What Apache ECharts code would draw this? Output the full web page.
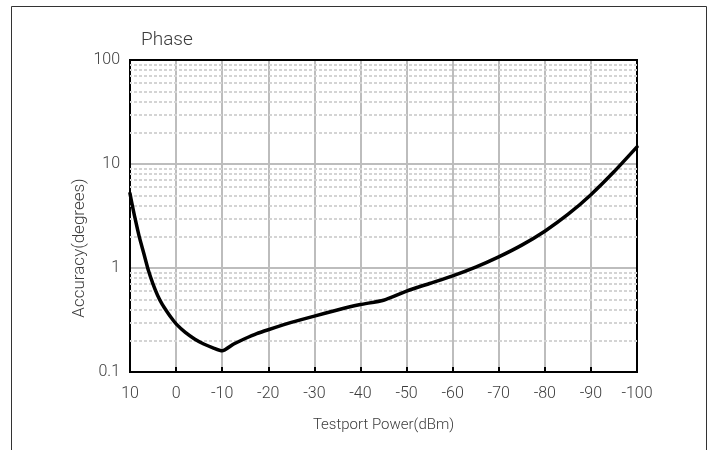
<!DOCTYPE html>
<html><head><meta charset="utf-8">
<script src="https://cdn.jsdelivr.net/npm/echarts@6/dist/echarts.min.js"></script>
<style>html,body{margin:0;padding:0;background:#fff}#c{width:713px;height:450px}</style>
</head><body><div id="c"></div>
<script>
const chartTitle = 'Phase';
const xAxisName = 'Testport Power(dBm)';
const yAxisName = 'Accuracy(degrees)';
const powerDbm = [10, 9.5, 9, 8, 7, 6, 5, 4, 3, 2, 1, 0, -2, -4, -6, -8, -10, -12.5, -15, -17.5, -20, -25, -30, -35, -40, -45, -50, -55, -60, -65, -70, -75, -80, -85, -90, -95, -100];
const accuracyDeg = [5.2, 4.0, 3.14, 2.0, 1.38, 0.945, 0.7, 0.545, 0.447, 0.382, 0.33, 0.29, 0.24, 0.208, 0.186, 0.171, 0.16, 0.186, 0.21, 0.234, 0.255, 0.3, 0.345, 0.395, 0.445, 0.49, 0.6, 0.71, 0.84, 1.02, 1.28, 1.66, 2.26, 3.27, 5.07, 8.41, 14.6];
const minorGridValues = [0.2,0.3,0.4,0.5,0.6,0.7,0.8,0.9,2,3,4,5,6,7,8,9,20,30,40,50,60,70,80,90];

const FONT = "Roboto, 'Liberation Sans', sans-serif";
const TXT = '#3c3c3c';
const chart = echarts.init(document.getElementById('c'), null, {renderer: 'canvas'});
chart.setOption({
  animation: false,
  backgroundColor: '#fff',
  title: {
    text: chartTitle, left: 136, top: 26,
    textStyle: {fontFamily: FONT, fontSize: 19, fontWeight: 300, color: TXT}
  },
  graphic: [{
    type: 'rect', silent: true,
    shape: {x: 11.5, y: 6.5, width: 695, height: 500},
    style: {fill: 'none', stroke: '#333', lineWidth: 1}
  }, {
    type: 'text', silent: true, x: 80, y: 248, rotation: Math.PI / 2,
    style: {text: yAxisName, fontFamily: FONT, fontSize: 17, fontWeight: 300, fill: TXT,
      align: 'center', verticalAlign: 'middle'}
  }],
  grid: {left: 130, top: 60, right: 76, bottom: 78, show: true, borderColor: '#000', borderWidth: 2, backgroundColor: 'transparent', z: 5},
  xAxis: {
    type: 'value', min: -100, max: 10, interval: 10, inverse: true,
    name: xAxisName, nameLocation: 'middle', nameGap: 46,
    nameTextStyle: {fontFamily: FONT, fontSize: 15, fontWeight: 300, color: TXT},
    axisLine: {show: true, onZero: false, lineStyle: {color: '#000', width: 2}},
    axisTick: {show: true, inside: true, length: 5, lineStyle: {color: '#000', width: 2}},
    axisLabel: {margin: 14, fontFamily: FONT, fontSize: 16, fontWeight: 300, color: TXT, showMinLabel: true, showMaxLabel: true},
    splitLine: {show: true, lineStyle: {color: '#bdbdbd', width: 2}}
  },
  yAxis: {
    type: 'log', logBase: 10, min: 0.1, max: 100,
    axisLine: {show: true, onZero: false, lineStyle: {color: '#000', width: 2}},
    axisTick: {show: false},
    axisLabel: {margin: 10, fontFamily: FONT, fontSize: 16, fontWeight: 300, color: TXT,
      formatter: v => String(+v.toPrecision(3))},
    splitLine: {show: true, lineStyle: {color: '#bdbdbd', width: 2}}
  },
  series: [
    {
      type: 'line', data: [], z: 1, silent: true,
      markLine: {
        silent: true, symbol: 'none', animation: false,
        label: {show: false},
        lineStyle: {color: '#d4d4d4', width: 2, type: [3, 2]},
        data: minorGridValues.map(v => ({yAxis: v}))
      }
    },
    {
      type: 'line', z: 10,
      data: powerDbm.map((x, i) => [x, accuracyDeg[i]]),
      smooth: 0.2, symbol: 'none',
      lineStyle: {color: '#000', width: 3.5, join: 'round', cap: 'round'}
    }
  ]
});
</script></body></html>
